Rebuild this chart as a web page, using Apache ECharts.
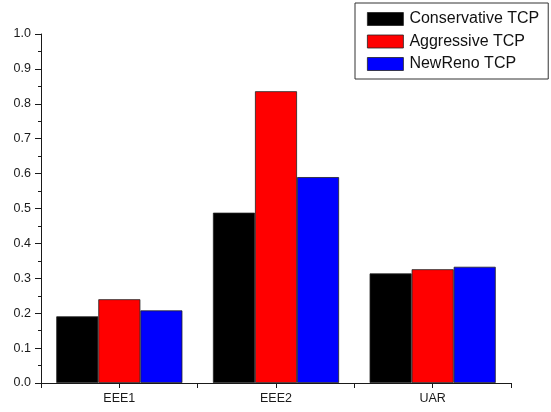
<!DOCTYPE html>
<html>
<head>
<meta charset="utf-8">
<script src="https://cdn.jsdelivr.net/npm/echarts@6/dist/echarts.min.js"></script>
<style>
  html, body { margin: 0; padding: 0; background: #fff; }
  #chart { width: 551px; height: 412px; }
</style>
</head>
<body>
<div id="chart"></div>
<script>
// Scenarios on the x axis
const categories = ['EEE1', 'EEE2', 'UAR'];

// Results per TCP variant
const conservativeTCP = [0.191, 0.488, 0.314];
const aggressiveTCP   = [0.240, 0.836, 0.326];
const newRenoTCP      = [0.208, 0.590, 0.333];

const seriesNames = ['Conservative TCP', 'Aggressive TCP', 'NewReno TCP'];
const seriesColors = ['#000000', '#ff0000', '#0000ff'];
const seriesValues = [conservativeTCP, aggressiveTCP, newRenoTCP];

// Half-category tick positions (centres and boundaries)
const halfSlots = ['', '', '', '', '', ''];

const font = 'Liberation Sans, Arial, sans-serif';
const axisColor = '#1a1a1a';

const chart = echarts.init(document.getElementById('chart'), null, { renderer: 'canvas' });

chart.setOption({
  animation: false,
  backgroundColor: '#ffffff',
  grid: { left: 41, top: 34, width: 470, height: 349, containLabel: false },
  legend: {
    orient: 'vertical',
    left: 355,
    top: 3,
    padding: [8, 9, 7, 12],
    itemWidth: 36,
    itemHeight: 13,
    itemGap: 6.5,
    borderColor: '#333',
    borderWidth: 1,
    backgroundColor: '#fff',
    icon: 'rect',
    itemStyle: { borderColor: '#222', borderWidth: 0.8 },
    textStyle: { fontFamily: font, fontSize: 16, color: '#111', lineHeight: 16, padding: [0, 0, 0, 1] },
    data: seriesNames
  },
  xAxis: [
    {
      type: 'category',
      data: categories,
      axisLine: { show: true, lineStyle: { color: axisColor, width: 1 } },
      axisTick: { show: false },
      axisLabel: { fontFamily: font, fontSize: 12.5, color: '#1a1a1a', margin: 9 },
      splitLine: { show: false }
    },
    {
      type: 'category',
      data: halfSlots,
      position: 'bottom',
      axisLine: { show: false },
      axisTick: { show: true, inside: false, length: 5, lineStyle: { color: axisColor, width: 1 } },
      axisLabel: { show: false },
      splitLine: { show: false }
    }
  ],
  yAxis: {
    type: 'value',
    min: 0,
    max: 1,
    interval: 0.1,
    axisLine: { show: true, lineStyle: { color: axisColor, width: 1 } },
    axisTick: { show: true, inside: false, length: 6, lineStyle: { color: axisColor, width: 1 } },
    minorTick: { show: true, splitNumber: 2, length: 3, lineStyle: { color: axisColor, width: 1 } },
    axisLabel: {
      fontFamily: font, fontSize: 12.5, color: '#1a1a1a', margin: 10,
      formatter: v => v.toFixed(1)
    },
    splitLine: { show: false }
  },
  series: seriesNames.map((name, i) => ({
    name: name,
    type: 'bar',
    xAxisIndex: 0,
    data: seriesValues[i],
    barGap: '0%',
    barCategoryGap: '19.5%',
    itemStyle: { color: seriesColors[i], borderColor: '#222', borderWidth: 0.8 }
  }))
});
</script>
</body>
</html>
